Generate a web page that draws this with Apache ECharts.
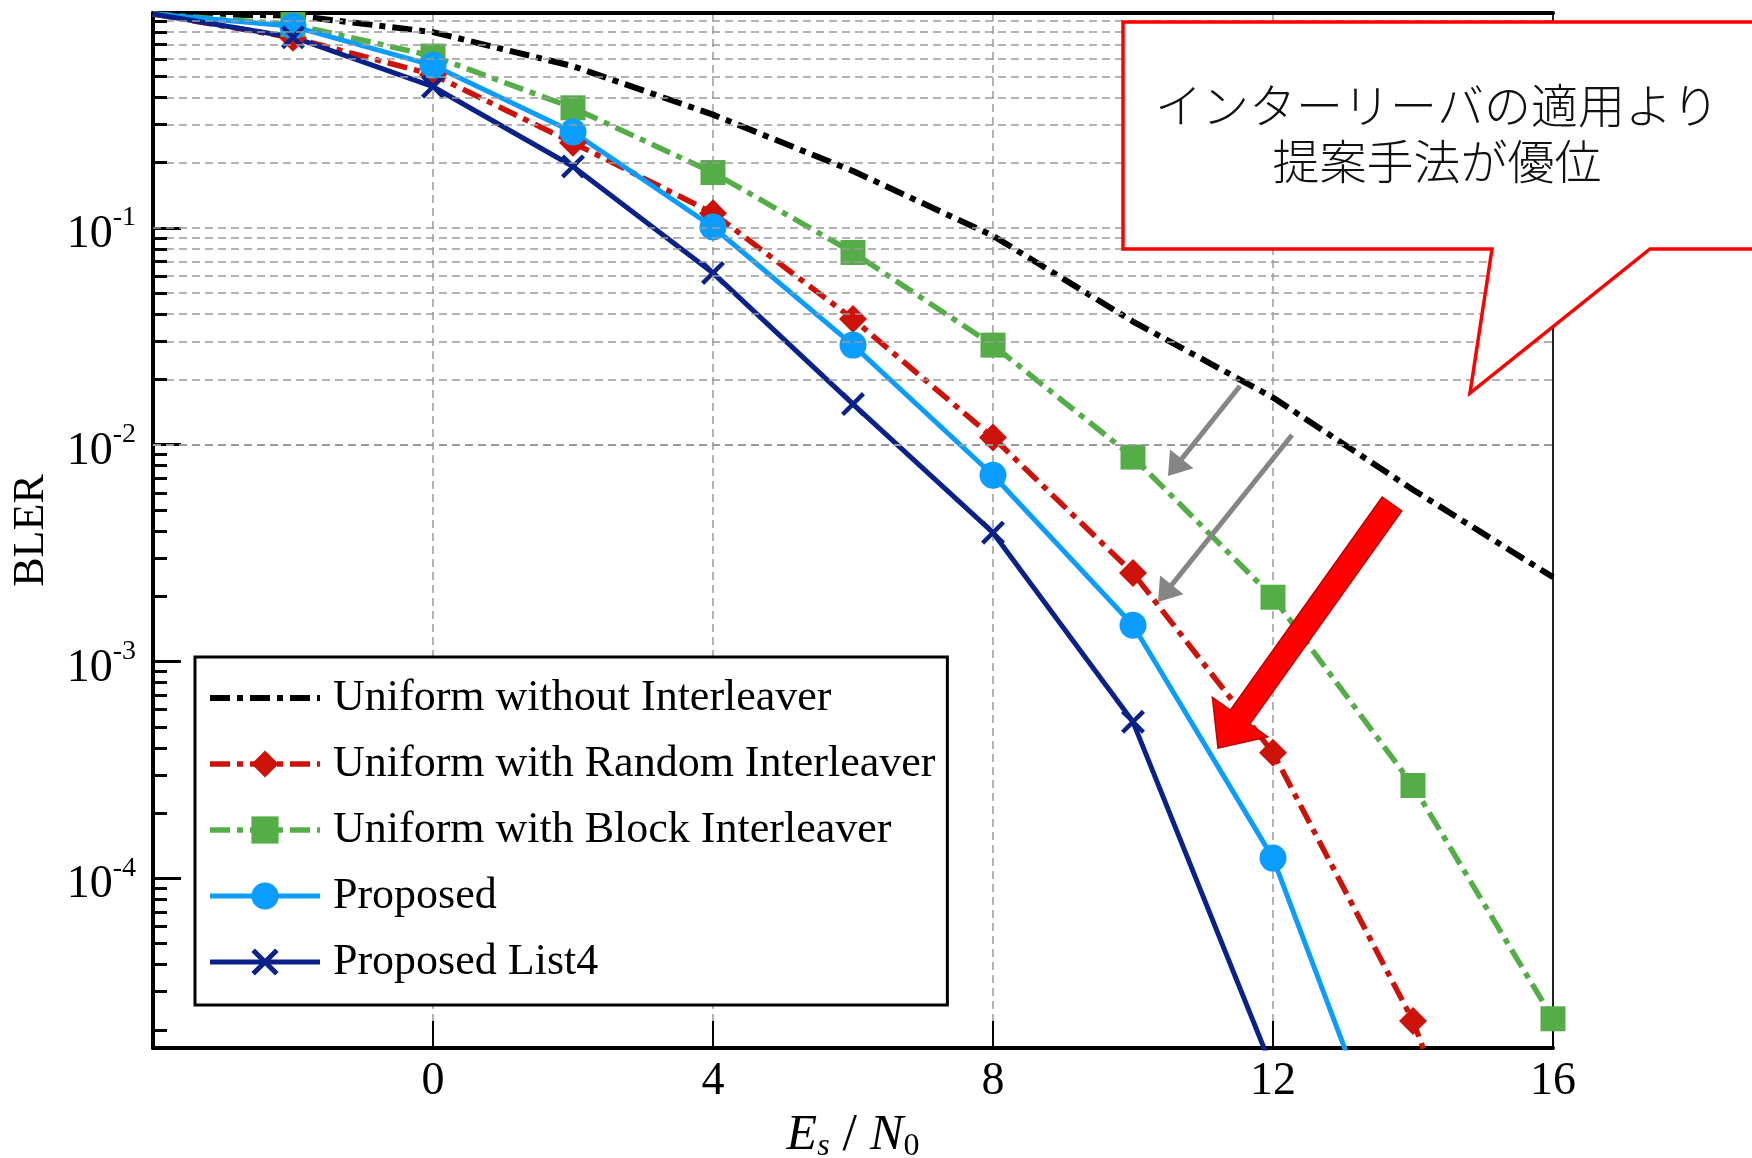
<!DOCTYPE html>
<html>
<head>
<meta charset="utf-8">
<script src="https://cdn.jsdelivr.net/npm/echarts@6/dist/echarts.min.js"></script>
<style>
  html, body { margin: 0; padding: 0; background: #fff; }
  #main { width: 1752px; height: 1158px; }
</style>
</head>
<body>
<div id="main"></div>
<script>
// Es/N0 points (dB)
const esn0 = [-4, -2, 0, 2, 4, 6, 8, 10, 12, 14, 16]

// BLER
const uniformNoIl   = [0.97, 0.955, 0.80, 0.557, 0.333, 0.183, 0.092, 0.037, 0.0165, 0.0062, 0.00245]
const uniformRandom = [0.97, 0.753, 0.509, 0.247, 0.117, 0.038, 0.0108, 0.00256, 0.00038, 0.000022, 0.0000004]
const uniformBlock  = [0.97, 0.867, 0.62, 0.358, 0.18, 0.077, 0.0288, 0.00877, 0.00198, 0.000268, 0.0000225]
const proposed      = [0.97, 0.851, 0.562, 0.277, 0.101, 0.0288, 0.00723, 0.00147, 0.000124, 0.0000024]
const proposedList4 = [0.97, 0.758, 0.448, 0.192, 0.062, 0.0154, 0.00393, 0.000527, 0.000013]

const names = [
  'Uniform without Interleaver',
  'Uniform with Random Interleaver',
  'Uniform with Block Interleaver',
  'Proposed',
  'Proposed List4'
]

const yMin = 1.65e-5
const yMax = 0.98
const decades = [-5, -4, -3, -2, -1]

const serif = '"Liberation Serif", "Times New Roman", serif'
const crossPath = 'path://M0,13L13,0L50,37L87,0L100,13L63,50L100,87L87,100L50,63L13,100L0,87L37,50Z'
const dashDot = [20, 7, 6, 7]

function pts(ys) {
  return ys.map((y, i) => i === 0 ? { value: [esn0[i], y], symbol: 'none' } : [esn0[i], y])
}

// horizontal grid lines (major + minor) and minor ticks on the left axis
function gridMarks() {
  const out = []
  decades.forEach(k => {
    for (let m = 1; m <= 9; m++) {
      const v = m * Math.pow(10, k)
      if (v < yMin || v > yMax) continue
      out.push({ yAxis: v, lineStyle: { color: '#9a9a9a', width: 1.5, type: [8, 5] } })
      if (m > 1) {
        out.push([
          { coord: [-4, v], lineStyle: { color: '#000', width: 3, type: 'solid' } },
          { coord: [-3.8, v] }
        ])
      }
    }
  })
  return out
}

function arrow(x1, y1, x2, y2, sh, hh, hl) {
  const dx = x2 - x1, dy = y2 - y1
  const len = Math.sqrt(dx * dx + dy * dy)
  const ux = dx / len, uy = dy / len
  const px = -uy, py = ux
  const bx = x2 - ux * hl, by = y2 - uy * hl
  return [
    [x1 + px * sh, y1 + py * sh],
    [bx + px * sh, by + py * sh],
    [bx + px * hh, by + py * hh],
    [x2, y2],
    [bx - px * hh, by - py * hh],
    [bx - px * sh, by - py * sh],
    [x1 - px * sh, y1 - py * sh]
  ]
}

var chart = echarts.init(document.getElementById('main'))

let option = {
  animation: false,
  backgroundColor: '#fff',
  grid: { left: 153, right: 199, top: 13, bottom: 110, outerBoundsMode: 'none', containLabel: false },
  legend: {
    data: [{ name: names[0], itemStyle: { opacity: 0 } }, names[1], names[2], names[3], names[4]],
    orient: 'vertical',
    left: 195, top: 657,
    padding: [19, 12, 21, 12],
    itemWidth: 110, itemHeight: 34, itemGap: 22,
    backgroundColor: '#fff',
    borderColor: '#000', borderWidth: 3, borderRadius: 0,
    z: 20,
    lineStyle: { width: 'inherit' },
    textStyle: { fontFamily: serif, fontSize: 44, lineHeight: 44, color: '#000', padding: [0, 0, 0, 8] }
  },
  xAxis: [{
    type: 'value', min: -4, max: 16, interval: 4,
    axisLine: { onZero: false, lineStyle: { color: '#000', width: 4 } },
    axisTick: { inside: true, length: 27, lineStyle: { color: '#000', width: 2 } },
    axisLabel: {
      formatter: v => v === -4 ? '' : String(v),
      fontFamily: serif, fontSize: 46, color: '#000', margin: 11
    },
    splitLine: { show: true, lineStyle: { color: '#9a9a9a', width: 1.5, type: [8, 5] } },
    name: '{i|E}{si|s}{n| / }{i|N}{sn|0}',
    nameLocation: 'middle', nameGap: 53,
    nameTextStyle: {
      rich: {
        i: { fontFamily: serif, fontStyle: 'italic', fontSize: 50, color: '#000' },
        si: { fontFamily: serif, fontStyle: 'italic', fontSize: 32, color: '#000', padding: [22, 0, 0, 0] },
        n: { fontFamily: serif, fontSize: 52, color: '#000' },
        sn: { fontFamily: serif, fontSize: 32, color: '#000', padding: [22, 0, 0, 0] }
      }
    }
  }, {
    type: 'value', position: 'top', min: -4, max: 16, interval: 4,
    axisLine: { onZero: false, lineStyle: { color: '#000', width: 4 } },
    axisTick: { show: false }, axisLabel: { show: false }, splitLine: { show: false }
  }],
  yAxis: [{
    type: 'log', logBase: 10, min: yMin, max: yMax,
    axisLine: { show: true, onZero: false, lineStyle: { color: '#000', width: 4 } },
    axisTick: { show: true, inside: true, length: 28, lineStyle: { color: '#000', width: 3 } },
    splitLine: { show: false },
    axisLabel: {
      margin: 17,
      formatter: v => {
        const l = Math.log10(v)
        const e = Math.round(l)
        if (Math.abs(l - e) > 0.01 || e === 0) return ''
        return '{b|10}{s|' + e + '}'
      },
      rich: {
        b: { fontFamily: serif, fontSize: 46, color: '#000', padding: [14, 0, 0, 0] },
        s: { fontFamily: serif, fontSize: 28, color: '#000', padding: [0, 0, 20, 0] }
      }
    },
    name: 'BLER', nameLocation: 'middle', nameGap: 100,
    nameTextStyle: { fontFamily: serif, fontSize: 44, color: '#000' }
  }, {
    type: 'log', logBase: 10, min: yMin, max: yMax, position: 'right',
    axisLine: { show: true, onZero: false, lineStyle: { color: '#222', width: 2 } },
    axisTick: { show: false }, axisLabel: { show: false }, splitLine: { show: false }
  }],
  series: [
    {
      name: '_grid', type: 'line', data: [], z: 1, silent: true,
      markLine: { silent: true, symbol: ['none', 'none'], label: { show: false }, animation: false, data: gridMarks() }
    },
    {
      name: names[0], type: 'line', data: pts(uniformNoIl), symbol: 'none', z: 3,
      lineStyle: { color: '#000', width: 6, type: dashDot },
      itemStyle: { color: '#000' }
    },
    {
      name: names[1], type: 'line', data: pts(uniformRandom), symbol: 'diamond', symbolSize: 28, z: 3,
      lineStyle: { color: '#cc1209', width: 5.5, type: dashDot },
      itemStyle: { color: '#cc1209' }
    },
    {
      name: names[2], type: 'line', data: pts(uniformBlock), symbol: 'rect', symbolSize: 25, z: 3,
      lineStyle: { color: '#54ad47', width: 5.5, type: dashDot },
      itemStyle: { color: '#54ad47' }
    },
    {
      name: names[3], type: 'line', data: pts(proposed), symbol: 'circle', symbolSize: 27, z: 3,
      lineStyle: { color: '#0a9cff', width: 5 },
      itemStyle: { color: '#0a9cff' }
    },
    {
      name: names[4], type: 'line', data: pts(proposedList4), symbol: crossPath, symbolSize: 24, z: 3,
      lineStyle: { color: '#0a2189', width: 5 },
      itemStyle: { color: '#0a2189' }
    }
  ],
  graphic: [
    {
      type: 'polygon', z: 100,
      shape: { points: [[1123, 22], [1765, 22], [1765, 249], [1650, 249], [1470, 393], [1492, 249], [1123, 249]] },
      style: { fill: '#fff', stroke: '#ff0000', lineWidth: 3.5 }
    },
    {
      type: 'text', z: 101, x: 1437, y: 133,
      style: {
        text: 'インターリーバの適用より\n提案手法が優位',
        fontFamily: '"Noto Sans CJK JP"', fontWeight: 300, fontSize: 47, lineHeight: 56,
        fill: '#111', align: 'center', verticalAlign: 'middle'
      }
    },
    { type: 'polygon', z: 50, shape: { points: arrow(1240, 386, 1168, 476, 2.5, 15, 22) }, style: { fill: '#858585' } },
    { type: 'polygon', z: 50, shape: { points: arrow(1292, 435, 1158, 602, 2.5, 15, 22) }, style: { fill: '#858585' } },
    {
      type: 'polygon', z: 51,
      shape: { points: arrow(1392, 504, 1218, 748, 12, 34, 38) },
      style: { fill: '#ff0000', stroke: '#c00000', lineWidth: 1.5 }
    }
  ]
}

chart.setOption(option)
</script>
</body>
</html>
